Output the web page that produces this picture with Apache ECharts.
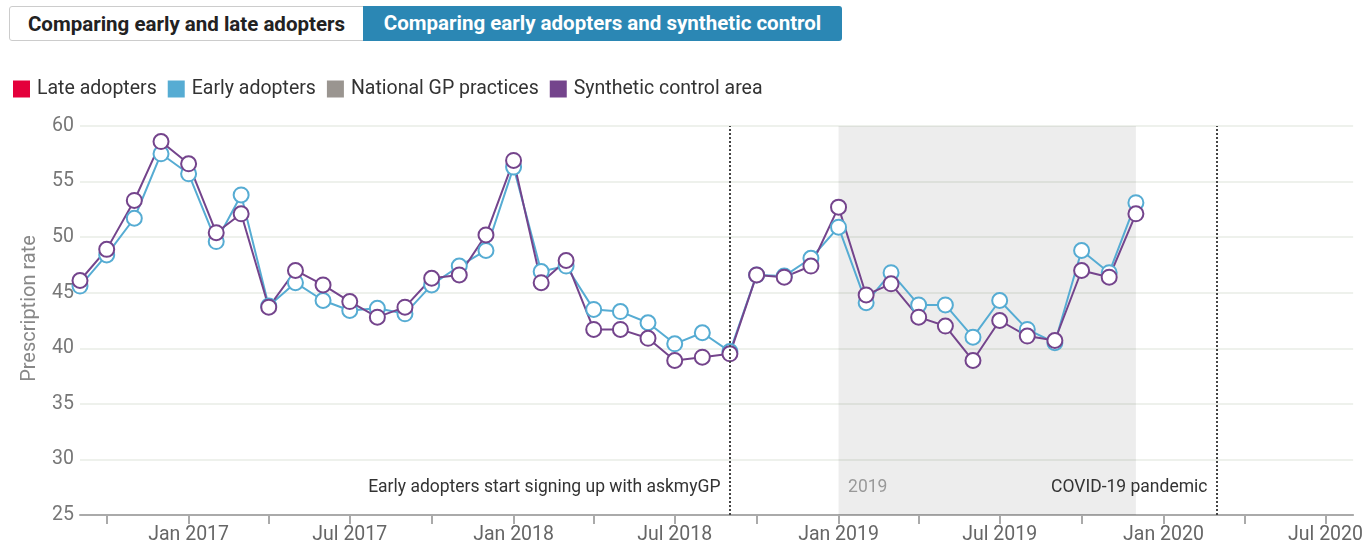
<!DOCTYPE html>
<html>
<head>
<meta charset="utf-8">
<script src="https://cdn.jsdelivr.net/npm/echarts@6/dist/echarts.min.js"></script>
<style>
  body { margin: 0; background: #fff; font-family: Roboto, sans-serif; }
  #wrap { position: relative; width: 1366px; height: 546px; }
  #main { position: absolute; left: 0; top: 0; width: 1366px; height: 546px; }
  .btn {
    position: absolute; top: 6px; height: 35px; line-height: 35px;
    font-size: 20.5px; font-weight: bold; text-align: center; box-sizing: border-box;
    z-index: 2;
  }
  #b1 { left: 9px; width: 355px; border: 1px solid #ccc; color: #222; background: #fff; border-radius: 3px 0 0 3px; }
  #b2 { left: 363px; width: 479px; background: #2b87b4; color: #fff; border-radius: 0 3px 3px 0; }
</style>
</head>
<body>
<div id="wrap">
  <div class="btn" id="b1">Comparing early and late adopters</div>
  <div class="btn" id="b2">Comparing early adopters and synthetic control</div>
  <div id="main"></div>
</div>
<script>
// monthly points, Sep 2016 - Dec 2019
const months = [
  '2016-09-01', '2016-10-01', '2016-11-01', '2016-12-01',
  '2017-01-01', '2017-02-01', '2017-03-01', '2017-04-01', '2017-05-01', '2017-06-01',
  '2017-07-01', '2017-08-01', '2017-09-01', '2017-10-01', '2017-11-01', '2017-12-01',
  '2018-01-01', '2018-02-01', '2018-03-01', '2018-04-01', '2018-05-01', '2018-06-01',
  '2018-07-01', '2018-08-01', '2018-09-01', '2018-10-01', '2018-11-01', '2018-12-01',
  '2019-01-01', '2019-02-01', '2019-03-01', '2019-04-01', '2019-05-01', '2019-06-01',
  '2019-07-01', '2019-08-01', '2019-09-01', '2019-10-01', '2019-11-01', '2019-12-01'
];

const earlyAdopters = [
  45.6, 48.4, 51.7, 57.5,
  55.7, 49.6, 53.8, 43.8, 45.9, 44.3, 43.4, 43.6, 43.1, 45.7, 47.4, 48.8,
  56.3, 46.9, 47.4, 43.5, 43.3, 42.3, 40.4, 41.4, 39.7, 46.6, 46.5, 48.1,
  50.9, 44.1, 46.8, 43.9, 43.9, 41.0, 44.3, 41.7, 40.5, 48.8, 46.8, 53.1
];

const syntheticControl = [
  46.1, 48.9, 53.3, 58.6,
  56.6, 50.4, 52.1, 43.7, 47.0, 45.7, 44.2, 42.8, 43.7, 46.3, 46.6, 50.2,
  56.9, 45.9, 47.9, 41.7, 41.7, 40.9, 38.9, 39.2, 39.5, 46.6, 46.4, 47.4,
  52.7, 44.8, 45.8, 42.8, 42.0, 38.9, 42.5, 41.1, 40.7, 47.0, 46.4, 52.1
];

// quarterly ticks, labels on Jan / Jul
const tickDates = [
  '2016-10-01', '2017-01-01', '2017-04-01', '2017-07-01', '2017-10-01',
  '2018-01-01', '2018-04-01', '2018-07-01', '2018-10-01',
  '2019-01-01', '2019-04-01', '2019-07-01', '2019-10-01',
  '2020-01-01', '2020-04-01', '2020-07-01'
];
const labelDates = [
  '2017-01-01', '2017-07-01', '2018-01-01', '2018-07-01',
  '2019-01-01', '2019-07-01', '2020-01-01', '2020-07-01'
];
const monthNames = ['Jan', 'Feb', 'Mar', 'Apr', 'May', 'Jun', 'Jul', 'Aug', 'Sep', 'Oct', 'Nov', 'Dec'];

const events = [
  { date: '2018-09-01', text: 'Early adopters start signing up with askmyGP' },
  { date: '2020-03-01', text: 'COVID-19 pandemic' }
];
const period2019 = ['2019-01-01', '2019-12-01'];

const COLORS = {
  late: '#e4003b',
  early: '#56acd3',
  national: '#9a9590',
  synthetic: '#74448c'
};

const ts = (d) => +echarts.time.parse(d);
const pairs = (vals) => months.map((m, i) => [ts(m), vals[i]]);

const lineSeries = (name, color, vals) => ({
  name: name,
  type: 'line',
  color: color,
  data: pairs(vals),
  symbol: 'emptyCircle',
  symbolSize: 15,
  lineStyle: { width: 2, color: color },
  itemStyle: { color: color, borderWidth: 2 }
});

const labelAt = (date, text, pos, color) => ({
  coord: [ts(date), 27.45],
  symbol: 'circle',
  symbolSize: 1,
  itemStyle: { color: 'rgba(0,0,0,0)' },
  label: {
    show: true,
    position: pos,
    distance: 9,
    formatter: text,
    color: color,
    fontSize: 17.5,
    fontFamily: 'Roboto'
  }
});

const config = () => {
  const synth = lineSeries('Synthetic control area', COLORS.synthetic, syntheticControl);
  synth.markLine = {
    silent: true,
    symbol: 'none',
    label: { show: false },
    lineStyle: { type: 'dotted', color: '#444', width: 2 },
    data: events.map(e => ({ xAxis: ts(e.date) }))
  };
  synth.markPoint = {
    silent: true,
    data: events.map(e => labelAt(e.date, e.text, 'left', '#333'))
      .concat([labelAt(period2019[0], '2019', 'right', '#999')])
  };

  const early = lineSeries('Early adopters', COLORS.early, earlyAdopters);
  early.markArea = {
    silent: true,
    itemStyle: { color: 'rgba(0,0,0,0.07)' },
    data: [[{ xAxis: ts(period2019[0]) }, { xAxis: ts(period2019[1]) }]]
  };

  return {
    animation: false,
    textStyle: { fontFamily: 'Roboto' },
    legend: {
      left: 8,
      top: 74,
      icon: 'rect',
      itemWidth: 17,
      itemHeight: 17,
      itemGap: 11,
      selectedMode: false,
      textStyle: { fontSize: 19.5, color: '#333', padding: [0, 0, 0, 2] },
      data: ['Late adopters', 'Early adopters', 'National GP practices', 'Synthetic control area']
    },
    grid: { left: 80, right: 11, top: 126, bottom: 31, containLabel: false },
    xAxis: {
      type: 'value',
      min: ts('2016-09-01'),
      max: ts('2020-08-01'),
      axisLine: { lineStyle: { color: '#aaa', width: 2 } },
      axisTick: {
        show: true,
        length: 9,
        lineStyle: { color: '#aaa', width: 2 },
        customValues: tickDates.map(ts)
      },
      axisLabel: {
        color: '#666',
        fontSize: 19.5,
        margin: 10,
        customValues: labelDates.map(ts),
        formatter: (val) => {
          const d = new Date(val);
          return monthNames[d.getMonth()] + ' ' + d.getFullYear();
        }
      },
      splitLine: { show: false }
    },
    yAxis: {
      type: 'value',
      min: 25,
      max: 60,
      interval: 5,
      name: 'Prescription rate',
      nameLocation: 'middle',
      nameGap: 40,
      nameTextStyle: { color: '#888', fontSize: 20, padding: [0, 0, 0, 24] },
      axisLine: { show: false },
      axisTick: { show: false },
      axisLabel: { color: '#777', fontSize: 19.5, margin: 6 },
      splitLine: { lineStyle: { color: '#eef1ec', width: 2 } }
    },
    series: [
      { name: 'Late adopters', type: 'line', color: COLORS.late, data: [] },
      { name: 'National GP practices', type: 'line', color: COLORS.national, data: [] },
      early,
      synth
    ]
  };
};

const myChart = echarts.init(document.getElementById('main'));
myChart.setOption(config());
</script>
</body>
</html>
